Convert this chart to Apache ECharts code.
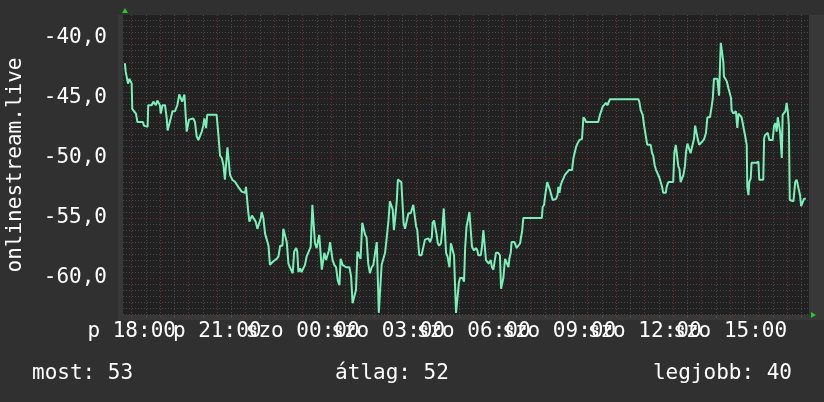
<!DOCTYPE html>
<html>
<head>
<meta charset="utf-8">
<title>onlinestream.live</title>
<script src="https://cdn.jsdelivr.net/npm/echarts@6/dist/echarts.min.js"></script>
</head>
<body style="margin:0; background:#303030">
<div id="main" style="width:824px; height:402px"></div>
<script>
// hours counted from friday 18:00, level in dB
var hours = [
  -0.24,-0.21,-0.15,-0.13,-0.08,-0.04,0.00,0.02,0.08,0.15,0.20,0.39,0.43,0.56,0.58,0.70,0.76,0.82,0.85,0.90,
  0.97,0.99,1.02,1.08,1.17,1.23,1.26,1.32,1.37,1.43,1.52,1.60,1.67,1.73,1.77,1.81,1.85,1.89,1.93,1.99,
  2.01,2.08,2.16,2.22,2.28,2.34,2.40,2.46,2.51,2.55,2.61,2.65,2.98,3.04,3.10,3.16,3.22,3.27,3.31,3.36,
  3.40,3.45,3.49,3.53,3.63,3.68,3.74,3.86,3.98,4.01,4.06,4.09,4.13,4.18,4.22,4.29,4.35,4.41,4.48,4.53,
  4.56,4.62,4.68,4.74,4.80,4.85,4.91,4.97,5.09,5.15,5.21,5.29,5.32,5.39,5.44,5.50,
  5.55,5.65,5.70,5.77,5.81,5.85,5.91,5.96,6.02,6.08,6.14,6.20,6.28,6.34,6.40,6.43,6.49,6.55,6.58,6.63,
  6.67,6.72,6.76,6.82,6.87,6.92,6.96,7.01,7.05,7.11,7.17,7.23,7.29,7.33,7.37,7.40,7.46,7.52,7.64,7.70,
  7.75,7.82,7.87,7.92,7.98,8.03,8.09,8.15,8.19,8.24,8.30,8.36,8.42,8.48,8.54,8.60,8.63,8.67,8.74,8.77,
  8.83,8.89,8.95,9.01,9.06,9.12,9.16,9.20,9.25,9.30,9.34,9.41,9.46,9.51,9.54,9.59,9.65,9.71,9.79,9.85,
  9.88,9.93,9.98,10.02,10.09,10.17,10.23,10.29,10.35,10.41,10.47,10.53,10.56,10.61,10.65,10.70,10.74,10.79,10.85,10.90,
  10.95,10.99,11.03,11.08,11.15,11.20,11.26,11.31,11.34,11.38,11.44,11.48,
  11.52,11.61,11.66,11.70,11.75,11.81,11.85,11.91,11.94,12.01,12.08,12.13,12.16,12.25,12.29,12.34,12.39,12.43,12.48,12.53,
  12.60,12.64,12.69,12.74,12.78,12.86,12.92,12.96,13.01,13.04,13.10,13.16,13.22,13.25,13.30,13.33,13.43,13.48,13.51,13.57,
  13.63,13.66,13.70,13.74,14.39,14.42,14.47,14.51,14.58,14.64,14.68,14.72,14.77,14.84,14.89,14.94,14.97,15.01,15.05,15.09,
  15.15,15.20,15.26,15.34,15.45,15.50,15.55,15.59,15.64,15.71,15.80,15.85,15.91,15.94,16.37,16.43,16.49,16.53,16.58,16.64,
  16.69,16.75,16.78,
  17.78,17.81,17.86,17.93,17.98,18.05,18.09,18.21,18.26,18.30,18.35,18.40,18.47,18.51,18.56,18.61,18.65,18.74,18.77,18.83,
  19.00,19.04,19.09,19.15,19.18,19.22,19.26,19.32,19.36,19.41,19.45,19.50,19.57,19.61,19.68,19.73,19.77,19.82,19.86,19.91,
  19.96,20.03,20.09,20.15,20.20,20.29,20.35,20.39,20.43,20.55,20.58,20.61,20.64,20.67,20.74,20.76,20.78,20.88,20.94,20.99,
  21.03,21.05,21.11,21.17,21.20,21.25,21.29,21.34,21.40,21.46,21.52,21.58,21.60,21.64,21.67,21.72,21.75,21.91,21.95,21.99,
  22.02,22.16,22.19,22.22,22.28,22.32,22.37,22.49,22.54,22.59,22.63,22.67,22.70,22.75,22.81,22.84,22.89,22.94,22.98,23.02,
  23.06,23.09,23.22,23.28,23.33,23.39,23.45,23.49,23.54,23.59,23.65
];
var levels = [
  -42.1,-42.8,-42.8,-43.8,-43.4,-43.4,-43.8,-45.9,-46.1,-46.3,-47.0,-47.0,-47.3,-47.4,-45.6,-45.6,-45.3,-45.3,-45.6,-45.2,
  -45.1,-45.6,-46.3,-45.6,-45.6,-46.7,-47.7,-47.7,-46.7,-46.1,-46.1,-45.6,-44.7,-44.7,-45.3,-45.3,-44.7,-44.7,-47.8,-47.8,
  -46.8,-46.7,-46.7,-47.0,-48.2,-48.5,-48.5,-47.8,-47.3,-46.7,-47.5,-46.4,-46.4,-48.0,-49.8,-50.0,-50.6,-51.8,-51.8,-49.1,
  -49.1,-51.4,-51.4,-51.8,-52.0,-52.0,-52.4,-52.8,-52.9,-52.4,-52.4,-54.5,-55.3,-55.3,-54.8,-54.8,-55.3,-55.9,-55.9,-55.0,
  -54.5,-55.0,-56.3,-56.4,-57.3,-58.9,-58.9,-58.6,-58.4,-58.2,-57.3,-57.3,-55.9,-55.9,-57.0,-58.8,
  -59.1,-59.6,-57.8,-57.5,-57.8,-59.5,-59.2,-59.5,-59.5,-58.9,-58.2,-58.1,-57.4,-53.9,-53.9,-57.1,-57.5,-57.4,-56.4,-56.4,
  -59.3,-59.3,-57.9,-58.5,-58.6,-57.7,-57.0,-57.0,-58.5,-58.9,-59.1,-60.2,-60.6,-58.4,-58.4,-58.9,-58.9,-59.1,-59.1,-59.9,
  -62.1,-62.1,-61.0,-57.8,-57.8,-58.4,-55.4,-55.4,-56.4,-56.6,-58.8,-59.6,-59.1,-58.9,-57.9,-57.0,-57.0,-62.9,-62.9,-58.9,
  -58.8,-57.9,-56.6,-55.2,-53.6,-53.6,-54.3,-56.0,-54.9,-53.6,-51.8,-51.8,-52.0,-54.1,-55.4,-55.9,-55.9,-54.6,-54.6,-54.5,
  -53.9,-53.9,-55.7,-56.0,-58.1,-58.1,-58.2,-56.8,-56.7,-56.7,-57.0,-56.6,-55.4,-55.2,-55.2,-56.4,-57.1,-57.3,-57.1,-55.9,
  -54.2,-54.2,-57.9,-58.2,-59.1,-57.1,-57.0,-58.1,-60.2,-62.9,-62.9,-60.4,
  -60.0,-60.0,-60.3,-57.5,-55.7,-55.6,-54.5,-54.5,-57.4,-57.7,-57.5,-57.7,-58.1,-58.1,-57.4,-56.0,-56.0,-58.5,-58.5,-58.8,
  -58.5,-59.1,-59.3,-59.2,-57.9,-57.9,-58.1,-60.9,-60.9,-60.0,-58.4,-58.4,-59.1,-58.4,-57.9,-57.0,-57.0,-57.1,-57.5,-57.5,
  -57.1,-56.6,-56.1,-55.0,-55.0,-54.1,-53.9,-53.1,-52.0,-52.0,-52.7,-52.8,-53.5,-53.5,-53.4,-53.1,-52.4,-52.9,-52.3,-52.0,
  -51.7,-51.4,-51.3,-51.0,-51.0,-50.0,-49.9,-49.1,-48.8,-48.5,-48.4,-46.6,-46.8,-47.0,-47.0,-46.4,-46.3,-45.7,-45.6,-45.4,
  -45.6,-45.6,-45.1,
  -45.1,-45.3,-46.0,-46.4,-47.3,-47.4,-48.9,-48.9,-49.6,-49.8,-50.6,-51.0,-51.1,-51.6,-52.0,-52.4,-52.9,-52.9,-52.4,-52.0,
  -52.0,-49.6,-48.9,-48.9,-50.7,-50.9,-52.0,-52.0,-51.4,-50.7,-49.5,-48.8,-48.8,-49.6,-49.6,-48.4,-47.3,-47.3,-48.4,-48.9,
  -48.9,-48.6,-48.4,-47.9,-46.6,-46.6,-45.7,-45.0,-43.4,-43.4,-43.5,-44.8,-42.5,-40.4,-40.4,-42.0,-43.2,-43.6,-44.2,-44.2,
  -45.0,-46.0,-46.3,-46.3,-46.1,-47.5,-46.3,-46.3,-46.6,-46.6,-48.1,-48.9,-52.4,-53.1,-52.0,-51.7,-50.4,-50.4,-50.3,-50.3,
  -51.8,-51.8,-48.4,-48.1,-48.1,-47.9,-48.5,-48.5,-47.3,-47.1,-47.8,-46.6,-46.6,-47.8,-50.0,-46.4,-46.4,-46.1,-45.4,-46.1,
  -47.3,-53.5,-53.6,-52.0,-51.8,-51.8,-53.1,-54.0,-54.0,-53.4,-53.4
];

var xLabelHours = [0, 3, 6, 9, 12, 15, 18, 21];
var xLabelTexts = ['p 18:00', 'p 21:00', 'szo 00:00', 'szo 03:00', 'szo 06:00', 'szo 09:00', 'szo 12:00', 'szo 15:00'];
var yLabelValues = [-60, -55, -50, -45, -40];
var legendTexts = ['most: 53', 'átlag: 52', 'legjobb: 40'];

var xMin = -0.305, xMax = 23.765;
var yMin = -63.08, yMax = -38.08;

var seriesData = hours.map(function (h, i) { return [h, levels[i]]; });

// grid steps: half hours / whole hours, half dB / 5 dB
var halfHours = [], wholeHours = [], halfDb = [];
for (var t = 0; t <= 23.5; t += 0.5) halfHours.push(t);
for (var t2 = 0; t2 <= 23; t2++) wholeHours.push(t2);
for (var d = -63; d <= -38.5; d += 0.5) halfDb.push(d);

// labels overlap each other, so split them over two axes (every other one)
var labelsEven = xLabelHours.filter(function (h, i) { return i % 2 === 0; });
var labelsOdd = xLabelHours.filter(function (h, i) { return i % 2 === 1; });

var FONT = 'DejaVu Sans Mono';
var minorGrid = { show: true, lineStyle: { color: '#4a4a4a', width: 1, type: [1, 2] } };
var majorGrid = { show: true, lineStyle: { color: '#6e3030', width: 1, type: [1, 2] } };

function labelAxis(values) {
    return {
        type: 'value', min: xMin, max: xMax, position: 'bottom',
        axisLine: { show: false },
        axisTick: { show: false },
        splitLine: { show: false },
        axisLabel: {
            show: true, customValues: values, margin: 6,
            showMinLabel: true, showMaxLabel: true,
            color: '#ffffff', fontFamily: FONT, fontSize: 21,
            formatter: function (v) { return xLabelTexts[xLabelHours.indexOf(Math.round(v))]; }
        }
    };
}

var myChart = echarts.init(document.getElementById('main'));

var option = {
    backgroundColor: '#303030',
    animation: false,
    grid: { left: 123, top: 15, width: 686, height: 300, show: false, containLabel: false, outerBoundsMode: 'none' },
    xAxis: [
        {
            type: 'value', min: xMin, max: xMax, position: 'bottom',
            axisLine: { show: false },
            axisTick: { show: true, length: 3, customValues: halfHours, lineStyle: { color: '#4a4a4a' } },
            axisLabel: { show: false },
            splitLine: minorGrid
        },
        {
            type: 'value', min: xMin, max: xMax, position: 'bottom',
            axisLine: { show: false },
            axisTick: { show: true, length: 3, customValues: wholeHours, lineStyle: { color: '#6e3030' } },
            axisLabel: { show: false },
            splitLine: majorGrid
        },
        labelAxis(labelsEven),
        labelAxis(labelsOdd)
    ],
    yAxis: [
        {
            type: 'value', min: yMin, max: yMax, position: 'left',
            axisLine: { show: false },
            axisTick: { show: false, customValues: halfDb },
            axisLabel: { show: false },
            splitLine: minorGrid
        },
        {
            type: 'value', min: yMin, max: yMax, position: 'left',
            name: 'onlinestream.live', nameLocation: 'middle', nameGap: 97,
            nameTextStyle: { color: '#ffffff', fontFamily: FONT, fontSize: 21 },
            axisLine: { show: false },
            axisTick: { show: false, customValues: yLabelValues },
            axisLabel: {
                show: true, customValues: yLabelValues, margin: 16,
                color: '#ffffff', fontFamily: FONT, fontSize: 21,
                formatter: function (v) { return v.toFixed(1).replace('.', ','); }
            },
            splitLine: majorGrid
        }
    ],
    graphic: [
        { type: 'rect', z: -2, silent: true, shape: { x: 118, y: 15, width: 706, height: 305 }, style: { fill: '#383838' } },
        { type: 'rect', z: -1, silent: true, shape: { x: 123, y: 15, width: 686, height: 300 }, style: { fill: '#212121' } },
        { type: 'polygon', z: 10, silent: true, shape: { points: [[122, 13], [128, 13], [125, 8]] }, style: { fill: '#22cc22' } },
        { type: 'polygon', z: 10, silent: true, shape: { points: [[811, 312], [811, 318], [816, 315]] }, style: { fill: '#22cc22' } },
        { type: 'text', silent: true, style: { text: legendTexts[0], x: 32, y: 374, font: '21px "DejaVu Sans Mono"', fill: '#ffffff', textAlign: 'left', textVerticalAlign: 'middle' } },
        { type: 'text', silent: true, style: { text: legendTexts[1], x: 392, y: 374, font: '21px "DejaVu Sans Mono"', fill: '#ffffff', textAlign: 'center', textVerticalAlign: 'middle' } },
        { type: 'text', silent: true, style: { text: legendTexts[2], x: 792, y: 374, font: '21px "DejaVu Sans Mono"', fill: '#ffffff', textAlign: 'right', textVerticalAlign: 'middle' } }
    ],
    series: [
        {
            type: 'line', xAxisIndex: 0, yAxisIndex: 0,
            data: seriesData, showSymbol: false, clip: true,
            lineStyle: { color: '#78f0b8', width: 2 }
        }
    ]
};
myChart.setOption(option);
</script>
</body>
</html>
